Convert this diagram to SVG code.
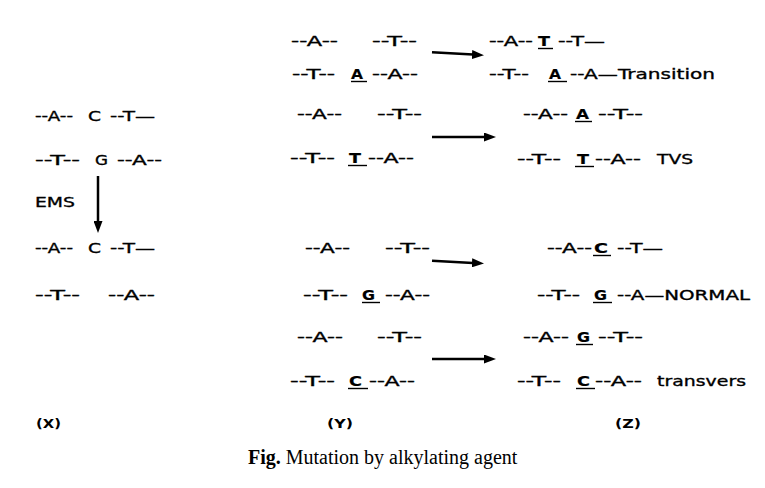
<svg xmlns="http://www.w3.org/2000/svg" width="765" height="488" viewBox="0 0 765 488">
<style>
.t{font-family:"DejaVu Sans",Verdana,"Liberation Sans",sans-serif;font-size:14.5px;fill:#000;stroke:#000;stroke-width:0.35}
.b{font-weight:bold;stroke-width:0.2}
.lbl{font-family:"DejaVu Sans",Verdana,sans-serif;font-size:12.5px;font-weight:bold;fill:#000}
.cap{font-family:"Liberation Serif","Times New Roman",serif;font-size:20px;fill:#000}
.ul{stroke:#000;stroke-width:1.4}
.arr{stroke:#000;stroke-width:2.5;fill:none}
</style>
<defs>
<marker id="ah" viewBox="0 0 12 9" refX="1" refY="4.5" markerWidth="12" markerHeight="9" markerUnits="userSpaceOnUse" orient="auto">
<path d="M0,0 L12,4.5 L0,9 z" fill="#000"/>
</marker>
</defs>
<rect width="765" height="488" fill="#fff"/>

<g id="x-before">
<text class="t" x="35" y="121" textLength="38" lengthAdjust="spacingAndGlyphs">--A--</text>
<text class="t" x="88" y="121" textLength="13" lengthAdjust="spacingAndGlyphs">C</text>
<text class="t" x="110" y="121" textLength="45" lengthAdjust="spacingAndGlyphs">--T—</text>
<text class="t" x="35" y="165" textLength="45" lengthAdjust="spacingAndGlyphs">--T--</text>
<text class="t" x="95" y="165" textLength="13" lengthAdjust="spacingAndGlyphs">G</text>
<text class="t" x="117" y="165" textLength="45" lengthAdjust="spacingAndGlyphs">--A--</text>
</g>
<g id="ems-label">
<text class="t" x="35" y="207" textLength="40" lengthAdjust="spacingAndGlyphs">EMS</text>
</g>
<g id="x-after">
<text class="t" x="35" y="253" textLength="38" lengthAdjust="spacingAndGlyphs">--A--</text>
<text class="t" x="88" y="253" textLength="13" lengthAdjust="spacingAndGlyphs">C</text>
<text class="t" x="110" y="253" textLength="45" lengthAdjust="spacingAndGlyphs">--T—</text>
<text class="t" x="35" y="300" textLength="45" lengthAdjust="spacingAndGlyphs">--T--</text>
<text class="t" x="108" y="300" textLength="47" lengthAdjust="spacingAndGlyphs">--A--</text>
</g>

<g id="y1">
<text class="t" x="291" y="46" textLength="47" lengthAdjust="spacingAndGlyphs">--A--</text>
<text class="t" x="372" y="46" textLength="45" lengthAdjust="spacingAndGlyphs">--T--</text>
<text class="t" x="292" y="79" textLength="43" lengthAdjust="spacingAndGlyphs">--T--</text>
<text class="t b" x="351" y="79" textLength="12" lengthAdjust="spacingAndGlyphs">A</text>
<line class="ul" x1="351" y1="81.5" x2="367" y2="81.5"/>
<text class="t" x="372" y="79" textLength="46" lengthAdjust="spacingAndGlyphs">--A--</text>
</g>
<g id="y2">
<text class="t" x="297" y="119" textLength="45" lengthAdjust="spacingAndGlyphs">--A--</text>
<text class="t" x="377" y="119" textLength="45" lengthAdjust="spacingAndGlyphs">--T--</text>
<text class="t" x="290" y="163" textLength="45" lengthAdjust="spacingAndGlyphs">--T--</text>
<text class="t b" x="349" y="163" textLength="12" lengthAdjust="spacingAndGlyphs">T</text>
<line class="ul" x1="348" y1="165.5" x2="367" y2="165.5"/>
<text class="t" x="368" y="163" textLength="46" lengthAdjust="spacingAndGlyphs">--A--</text>
</g>
<g id="y3">
<text class="t" x="305" y="253" textLength="45" lengthAdjust="spacingAndGlyphs">--A--</text>
<text class="t" x="385" y="253" textLength="45" lengthAdjust="spacingAndGlyphs">--T--</text>
<text class="t" x="303" y="300" textLength="45" lengthAdjust="spacingAndGlyphs">--T--</text>
<text class="t b" x="362" y="300" textLength="13" lengthAdjust="spacingAndGlyphs">G</text>
<line class="ul" x1="362" y1="302.5" x2="380" y2="302.5"/>
<text class="t" x="385" y="300" textLength="45" lengthAdjust="spacingAndGlyphs">--A--</text>
</g>
<g id="y4">
<text class="t" x="297" y="342" textLength="46" lengthAdjust="spacingAndGlyphs">--A--</text>
<text class="t" x="377" y="342" textLength="45" lengthAdjust="spacingAndGlyphs">--T--</text>
<text class="t" x="290" y="386" textLength="45" lengthAdjust="spacingAndGlyphs">--T--</text>
<text class="t b" x="349" y="386" textLength="13" lengthAdjust="spacingAndGlyphs">C</text>
<line class="ul" x1="348" y1="388.5" x2="368" y2="388.5"/>
<text class="t" x="369" y="386" textLength="46" lengthAdjust="spacingAndGlyphs">--A--</text>
</g>

<g id="z1">
<text class="t" x="489" y="46" textLength="44" lengthAdjust="spacingAndGlyphs">--A--</text>
<text class="t b" x="538" y="46" textLength="12" lengthAdjust="spacingAndGlyphs">T</text>
<line class="ul" x1="538" y1="48.5" x2="553" y2="48.5"/>
<text class="t" x="558" y="46" textLength="47" lengthAdjust="spacingAndGlyphs">--T—</text>
<text class="t" x="489" y="79" textLength="40" lengthAdjust="spacingAndGlyphs">--T--</text>
<text class="t b" x="549" y="79" textLength="12" lengthAdjust="spacingAndGlyphs">A</text>
<line class="ul" x1="548" y1="81.5" x2="567" y2="81.5"/>
<text class="t" x="570" y="79" textLength="145" lengthAdjust="spacingAndGlyphs">--A—Transition</text>
</g>
<g id="z2">
<text class="t" x="523" y="119" textLength="45" lengthAdjust="spacingAndGlyphs">--A--</text>
<text class="t b" x="576" y="119" textLength="13" lengthAdjust="spacingAndGlyphs">A</text>
<line class="ul" x1="575" y1="121.5" x2="592" y2="121.5"/>
<text class="t" x="598" y="119" textLength="45" lengthAdjust="spacingAndGlyphs">--T--</text>
<text class="t" x="517" y="164" textLength="44" lengthAdjust="spacingAndGlyphs">--T--</text>
<text class="t b" x="577" y="164" textLength="12" lengthAdjust="spacingAndGlyphs">T</text>
<line class="ul" x1="575" y1="166.5" x2="594" y2="166.5"/>
<text class="t" x="595" y="164" textLength="46" lengthAdjust="spacingAndGlyphs">--A--</text>
<text class="t" x="657" y="164" textLength="36" lengthAdjust="spacingAndGlyphs">TVS</text>
</g>
<g id="z3">
<text class="t" x="547" y="253" textLength="45" lengthAdjust="spacingAndGlyphs">--A--</text>
<text class="t b" x="594" y="253" textLength="14" lengthAdjust="spacingAndGlyphs">C</text>
<line class="ul" x1="593" y1="255.5" x2="611" y2="255.5"/>
<text class="t" x="617" y="253" textLength="46" lengthAdjust="spacingAndGlyphs">--T—</text>
<text class="t" x="537" y="300" textLength="43" lengthAdjust="spacingAndGlyphs">--T--</text>
<text class="t b" x="594" y="300" textLength="13" lengthAdjust="spacingAndGlyphs">G</text>
<line class="ul" x1="593" y1="302.5" x2="612" y2="302.5"/>
<text class="t" x="617" y="300" textLength="133" lengthAdjust="spacingAndGlyphs">--A—NORMAL</text>
</g>
<g id="z4">
<text class="t" x="523" y="342" textLength="46" lengthAdjust="spacingAndGlyphs">--A--</text>
<text class="t b" x="577" y="342" textLength="13" lengthAdjust="spacingAndGlyphs">G</text>
<line class="ul" x1="576" y1="344.5" x2="593" y2="344.5"/>
<text class="t" x="598" y="342" textLength="45" lengthAdjust="spacingAndGlyphs">--T--</text>
<text class="t" x="517" y="386" textLength="44" lengthAdjust="spacingAndGlyphs">--T--</text>
<text class="t b" x="577" y="386" textLength="13" lengthAdjust="spacingAndGlyphs">C</text>
<line class="ul" x1="576" y1="388.5" x2="595" y2="388.5"/>
<text class="t" x="595" y="386" textLength="47" lengthAdjust="spacingAndGlyphs">--A--</text>
<text class="t" x="657" y="386" textLength="89" lengthAdjust="spacingAndGlyphs">transvers</text>
</g>

<g id="connectors">
<line class="arr" x1="98" y1="176" x2="98" y2="222" marker-end="url(#ah)"/>
<line class="arr" x1="432" y1="52.3" x2="473" y2="54.6" marker-end="url(#ah)"/>
<line class="arr" x1="432" y1="137" x2="485" y2="137" marker-end="url(#ah)"/>
<line class="arr" x1="432" y1="260.7" x2="473" y2="262.9" marker-end="url(#ah)"/>
<line class="arr" x1="432" y1="359" x2="485" y2="359" marker-end="url(#ah)"/>
</g>

<g id="labels">
<text class="lbl" x="36" y="428" textLength="25" lengthAdjust="spacingAndGlyphs">(X)</text>
<text class="lbl" x="327" y="428" textLength="26" lengthAdjust="spacingAndGlyphs">(Y)</text>
<text class="lbl" x="615" y="428" textLength="26" lengthAdjust="spacingAndGlyphs">(Z)</text>
</g>
<g id="caption">
<text class="cap" x="248" y="464"><tspan font-weight="bold">Fig.</tspan> Mutation by alkylating agent</text>
</g>
</svg>
